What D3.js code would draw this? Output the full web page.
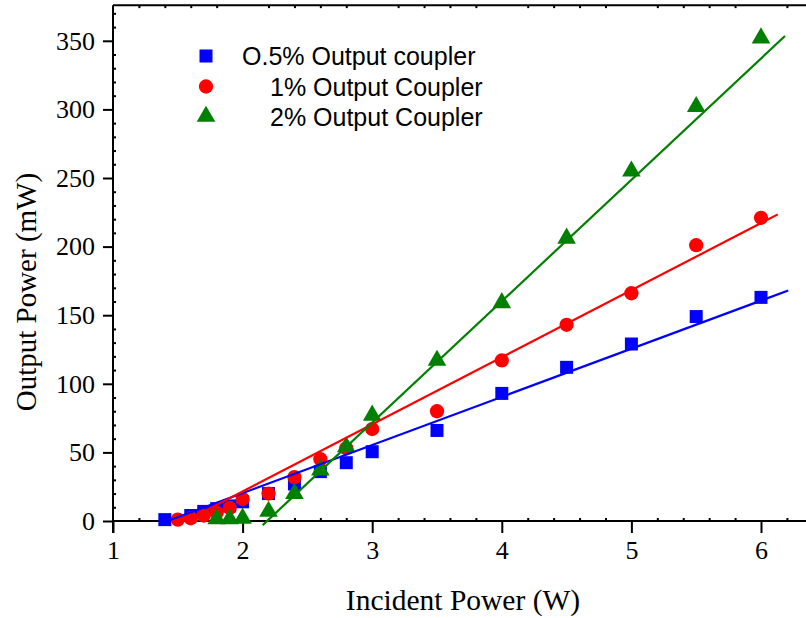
<!DOCTYPE html>
<html>
<head>
<meta charset="utf-8">
<script src="https://cdn.jsdelivr.net/npm/d3@7"></script>
<style>
  html, body { margin: 0; padding: 0; background: #fff; }
  svg { display: block; }
</style>
</head>
<body>
<svg id="chart" width="806" height="618"></svg>
<script>
// Incident power (W) and measured output power (mW) for each output coupler
const xBlue  = [1.4, 1.6, 1.7, 1.8, 1.9, 2.0, 2.2, 2.4, 2.6, 2.8, 3.0, 3.5, 4.0, 4.5, 5.0, 5.5, 6.0];
const yBlue  = [1, 4, 7, 9, 11, 14, 20, 27, 36, 42.5, 50.5, 66, 93, 112, 129, 149, 163];

const xRed   = [1.5, 1.6, 1.7, 1.8, 1.9, 2.0, 2.2, 2.4, 2.6, 2.8, 3.0, 3.5, 4.0, 4.5, 5.0, 5.5, 6.0];
const yRed   = [1, 2, 4, 6, 9.5, 16, 20, 32, 45, 53, 67, 80, 117, 143, 166, 201, 221];

const xGreen = [1.8, 1.9, 2.0, 2.2, 2.4, 2.6, 2.8, 3.0, 3.5, 4.0, 4.5, 5.0, 5.5, 6.0];
const yGreen = [1.5, 1.5, 2, 7, 20, 37, 54, 77, 117, 159, 206, 255, 302, 352];

// Linear fits: [start, end] points in (W, mW)
const fitBlue  = [[1.42, 0], [6.21, 168]];
const fitRed   = [[1.56, 0], [6.13, 223.5]];
const fitGreen = [[2.155, -3], [6.185, 353.5]];

const legendLabels = ["O.5% Output coupler", "1% Output Coupler", "2% Output Coupler"];
const xTicks = [1, 2, 3, 4, 5, 6];
const yTicks = [0, 50, 100, 150, 200, 250, 300, 350];

const svg = d3.select("#chart");

const x = d3.scaleLinear().domain([1, 6.4]).range([113, 113 + 5.4 * 129.6]);
const y = d3.scaleLinear().domain([0, 376]).range([521, 521 - 376 * 1.372]);

const serif = "'Liberation Serif', 'Times New Roman', serif";
const sans = "'Liberation Sans', Arial, sans-serif";

// ---- axes ----
const axisG = svg.append("g");

function styleAxis(g) {
  g.select(".domain").remove();
  g.selectAll("line").attr("stroke", "#000").attr("stroke-width", 2);
  g.selectAll("text").attr("fill", "#000").style("font-family", serif).style("font-size", "26px");
}

// minor ticks (inward)
const xMinor = d3.range(1, 6.41, 0.2).filter(v => Math.abs(v - Math.round(v)) > 1e-6);
const yMinor = d3.range(0, 376, 10).filter(v => v % 50 !== 0);

axisG.append("g")
  .attr("transform", `translate(0,${y(0)})`)
  .call(d3.axisBottom(x).tickValues(xMinor).tickSize(-3).tickFormat(""))
  .call(styleAxis);
axisG.append("g")
  .attr("transform", `translate(0,${y(0)})`)
  .call(d3.axisBottom(x).tickValues(xTicks).tickSize(12).tickPadding(8).tickFormat(d3.format("d")))
  .call(styleAxis);

axisG.append("g")
  .attr("transform", `translate(${x(1)},0)`)
  .call(d3.axisLeft(y).tickValues(yMinor).tickSize(-3).tickFormat(""))
  .call(styleAxis);
axisG.append("g")
  .attr("transform", `translate(${x(1)},0)`)
  .call(d3.axisLeft(y).tickValues(yTicks).tickSize(10).tickPadding(8).tickFormat(d3.format("d")))
  .call(styleAxis);

// top frame with inward minor ticks
axisG.append("g")
  .attr("transform", `translate(0,${y(376)})`)
  .call(d3.axisTop(x).tickValues(xMinor).tickSize(-3).tickFormat(""))
  .call(styleAxis);

// axis lines
axisG.append("line")
  .attr("x1", x(1)).attr("x2", 806).attr("y1", y(0)).attr("y2", y(0))
  .attr("stroke", "#000").attr("stroke-width", 2);
axisG.append("line")
  .attr("x1", x(1)).attr("x2", 806).attr("y1", y(376)).attr("y2", y(376))
  .attr("stroke", "#000").attr("stroke-width", 2);
axisG.append("line")
  .attr("x1", x(1)).attr("x2", x(1)).attr("y1", y(376)).attr("y2", y(0) + 12)
  .attr("stroke", "#000").attr("stroke-width", 2);

// axis titles
svg.append("text")
  .attr("x", 463).attr("y", 610)
  .attr("text-anchor", "middle")
  .style("font-family", serif).style("font-size", "29.5px")
  .text("Incident Power (W)");
svg.append("text")
  .attr("transform", `translate(36,${(y(0) + y(376)) / 2 + 29}) rotate(-90)`)
  .attr("text-anchor", "middle")
  .style("font-family", serif).style("font-size", "29px")
  .text("Output Power (mW)");

// ---- series ----
const series = [
  { xs: xBlue, ys: yBlue, fit: fitBlue, color: "#0000ff", symbol: d3.symbolSquare, size: 169 },
  { xs: xRed, ys: yRed, fit: fitRed, color: "#ff0000", symbol: d3.symbolCircle, size: 160 },
  { xs: xGreen, ys: yGreen, fit: fitGreen, color: "#008000", symbol: d3.symbolTriangle, size: 150 }
];

const plot = svg.append("g");

series.forEach(s => {
  plot.append("g").selectAll("path")
    .data(s.xs.map((v, i) => [v, s.ys[i]]))
    .join("path")
    .attr("transform", d => `translate(${x(d[0])},${y(d[1])})`)
    .attr("d", d3.symbol().type(s.symbol).size(s.size))
    .attr("fill", s.color);
});

const line = d3.line().x(d => x(d[0])).y(d => y(d[1]));
series.forEach(s => {
  plot.append("path")
    .attr("d", line(s.fit))
    .attr("fill", "none")
    .attr("stroke", s.color)
    .attr("stroke-width", 2.2);
});

// ---- legend ----
const legendY = [56, 86.5, 116.5];
const legendTextX = [242, 270, 270];
const legend = svg.append("g");
series.forEach((s, i) => {
  legend.append("path")
    .attr("transform", `translate(206,${legendY[i]})`)
    .attr("d", d3.symbol().type(s.symbol).size(s.size))
    .attr("fill", s.color);
  legend.append("text")
    .attr("x", legendTextX[i]).attr("y", legendY[i] + 9)
    .style("font-family", sans).style("font-size", "25px")
    .text(legendLabels[i]);
});
</script>
</body>
</html>
